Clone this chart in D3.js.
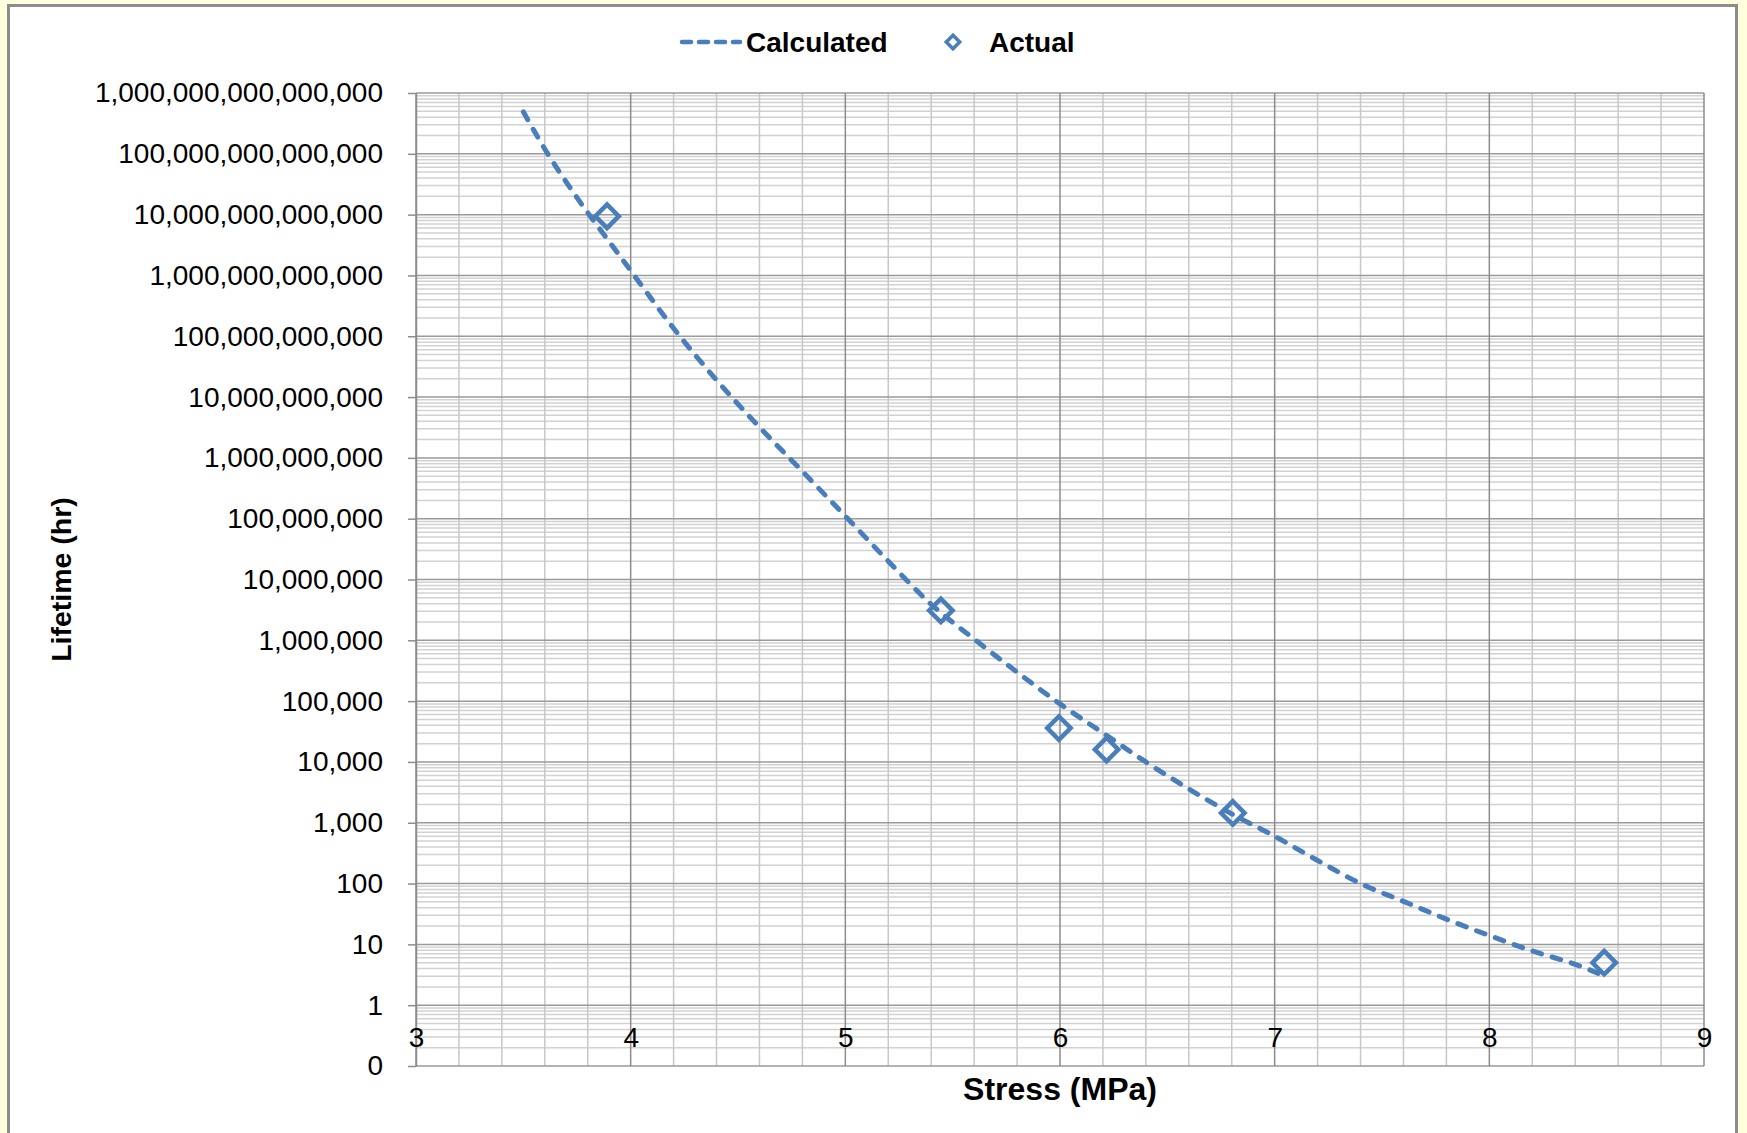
<!DOCTYPE html>
<html>
<head>
<meta charset="utf-8">
<script src="https://cdnjs.cloudflare.com/ajax/libs/d3/7.8.5/d3.min.js"></script>
<style>
    body { margin: 0; background: #ffffdd; }
    text { font-family: "Liberation Sans", Arial, sans-serif; }
</style>
</head>
<body>
<div id="chart"></div>
<script>
// Calculated curve (stress MPa, lifetime hr)
var calcStress = [3.50, 3.60, 3.75, 3.90, 4.00, 4.20, 4.40, 4.60, 4.80, 5.00, 5.20, 5.40, 5.60, 5.80, 6.00,
                  6.20, 6.40, 6.60, 6.80, 7.00, 7.20, 7.40, 7.60, 7.80, 8.00, 8.20, 8.40, 8.52];
var calcLife = [4.9e14, 1.2e14, 1.9e13, 3.6e12, 1.2e12, 1.35e11, 1.9e10, 3.2e9, 6.0e8, 1.1e8, 2.0e7, 3.9e6, 1.05e6, 3.0e5, 9.0e4,
                3.0e4, 1.0e4, 3.6e3, 1.4e3, 6.0e2, 2.4e2, 1.0e2, 51, 26, 14, 7.8, 4.7, 3.2];

// Actual measurements
var actualStress = [3.89, 5.445, 5.995, 6.217, 6.805, 8.535];
var actualLife = [9.4e12, 3.1e6, 3.6e4, 1.6e4, 1.45e3, 5.0];

var yTickValues = [0.1, 1, 10, 100, 1e3, 1e4, 1e5, 1e6, 1e7, 1e8, 1e9, 1e10, 1e11, 1e12, 1e13, 1e14, 1e15];
var xTickValues = [3, 4, 5, 6, 7, 8, 9];

var width = 1747, height = 1133;
var plot = {left: 416, right: 1704, top: 93, bottom: 1066};
var blue = '#4a7ebb';

var svg = d3.select('#chart')
    .append('svg')
    .attr('width', width)
    .attr('height', height);

// chart panel
svg.append('rect')
    .attr('x', 8.5)
    .attr('y', 5.5)
    .attr('width', 1728)
    .attr('height', 1150)
    .attr('fill', 'white')
    .attr('stroke', '#8c8c8c')
    .attr('stroke-width', 3);

var x = d3.scaleLinear().domain([3, 9]).range([plot.left, plot.right]);
var y = d3.scaleLog().domain([0.1, 1e15]).range([plot.bottom, plot.top]);

// minor gridlines
var yMinor = [];
yTickValues.slice(0, -1).forEach(function (v) {
    for (var k = 2; k < 10; k++) yMinor.push(v * k);
});
var xMinor = d3.range(30, 91, 2).map(function (d) { return d / 10; })
    .filter(function (d) { return d % 1 !== 0; });

var grid = svg.append('g');

grid.selectAll('.hminor')
    .data(yMinor)
    .enter().append('line')
    .attr('x1', plot.left).attr('x2', plot.right)
    .attr('y1', function (d) { return y(d); })
    .attr('y2', function (d) { return y(d); })
    .attr('stroke', '#d2d2d2')
    .attr('stroke-width', 1.5);

grid.selectAll('.vminor')
    .data(xMinor)
    .enter().append('line')
    .attr('x1', function (d) { return x(d); })
    .attr('x2', function (d) { return x(d); })
    .attr('y1', plot.top).attr('y2', plot.bottom)
    .attr('stroke', '#c8c8c8')
    .attr('stroke-width', 1.5);

grid.selectAll('.hmajor')
    .data(yTickValues)
    .enter().append('line')
    .attr('x1', plot.left).attr('x2', plot.right)
    .attr('y1', function (d) { return y(d); })
    .attr('y2', function (d) { return y(d); })
    .attr('stroke', '#9a9a9a')
    .attr('stroke-width', 1.5);

grid.selectAll('.vmajor')
    .data(xTickValues)
    .enter().append('line')
    .attr('x1', function (d) { return x(d); })
    .attr('x2', function (d) { return x(d); })
    .attr('y1', plot.top).attr('y2', plot.bottom)
    .attr('stroke', '#8c8c8c')
    .attr('stroke-width', 1.5);

// y axis
var yAxis = svg.append('g')
    .attr('transform', 'translate(' + plot.left + ',0)')
    .call(d3.axisLeft(y)
        .tickValues(yTickValues)
        .tickFormat(d3.format(',.0f'))
        .tickSize(8)
        .tickSizeOuter(0)
        .tickPadding(25));
yAxis.select('.domain').attr('stroke', '#8c8c8c').attr('stroke-width', 1.5);
yAxis.selectAll('.tick line').attr('stroke', '#8c8c8c').attr('stroke-width', 1.5);
yAxis.selectAll('text')
    .attr('font-family', '"Liberation Sans", Arial, sans-serif')
    .attr('font-size', 28)
    .attr('fill', '#000');

// x axis labels sit just below the y = 1 line
var xAxis = svg.append('g')
    .attr('transform', 'translate(0,' + y(1) + ')')
    .call(d3.axisBottom(x)
        .tickValues(xTickValues)
        .tickFormat(d3.format('d'))
        .tickSize(0)
        .tickPadding(22));
xAxis.select('.domain').remove();
xAxis.selectAll('text')
    .attr('font-family', '"Liberation Sans", Arial, sans-serif')
    .attr('font-size', 28)
    .attr('fill', '#000');

// calculated curve
var calcData = calcStress.map(function (s, i) { return [s, calcLife[i]]; });
var line = d3.line()
    .x(function (d) { return x(d[0]); })
    .y(function (d) { return y(d[1]); })
    .curve(d3.curveMonotoneX);

svg.append('path')
    .datum(calcData)
    .attr('d', line)
    .attr('fill', 'none')
    .attr('stroke', blue)
    .attr('stroke-width', 5)
    .attr('stroke-dasharray', '9,11')
    .attr('stroke-linecap', 'round');

// actual points
var actualData = actualStress.map(function (s, i) { return [s, actualLife[i]]; });
var diamond = d3.symbol().type(d3.symbolSquare).size(275);

svg.selectAll('.actual')
    .data(actualData)
    .enter().append('path')
    .attr('d', diamond)
    .attr('transform', function (d) {
        return 'translate(' + x(d[0]) + ',' + y(d[1]) + ') rotate(45)';
    })
    .attr('fill', 'none')
    .attr('stroke', blue)
    .attr('stroke-width', 4.5);

// axis titles
svg.append('text')
    .attr('x', (plot.left + plot.right) / 2)
    .attr('y', 1100)
    .attr('text-anchor', 'middle')
    .attr('font-size', 32)
    .attr('font-weight', 'bold')
    .text('Stress (MPa)');

svg.append('text')
    .attr('transform', 'translate(71,' + ((plot.top + plot.bottom) / 2) + ') rotate(-90)')
    .attr('text-anchor', 'middle')
    .attr('font-size', 28.5)
    .attr('font-weight', 'bold')
    .text('Lifetime (hr)');

// legend
var legend = svg.append('g');
legend.append('line')
    .attr('x1', 682).attr('x2', 740)
    .attr('y1', 42).attr('y2', 42)
    .attr('stroke', blue)
    .attr('stroke-width', 4.5)
    .attr('stroke-dasharray', '9,8')
    .attr('stroke-linecap', 'round');
legend.append('text')
    .attr('x', 746)
    .attr('y', 52)
    .attr('font-size', 28)
    .attr('font-weight', 'bold')
    .text('Calculated');
legend.append('path')
    .attr('d', d3.symbol().type(d3.symbolSquare).size(90))
    .attr('transform', 'translate(953,42) rotate(45)')
    .attr('fill', 'none')
    .attr('stroke', blue)
    .attr('stroke-width', 3.5);
legend.append('text')
    .attr('x', 989)
    .attr('y', 52)
    .attr('font-size', 28)
    .attr('font-weight', 'bold')
    .text('Actual');
</script>
</body>
</html>
